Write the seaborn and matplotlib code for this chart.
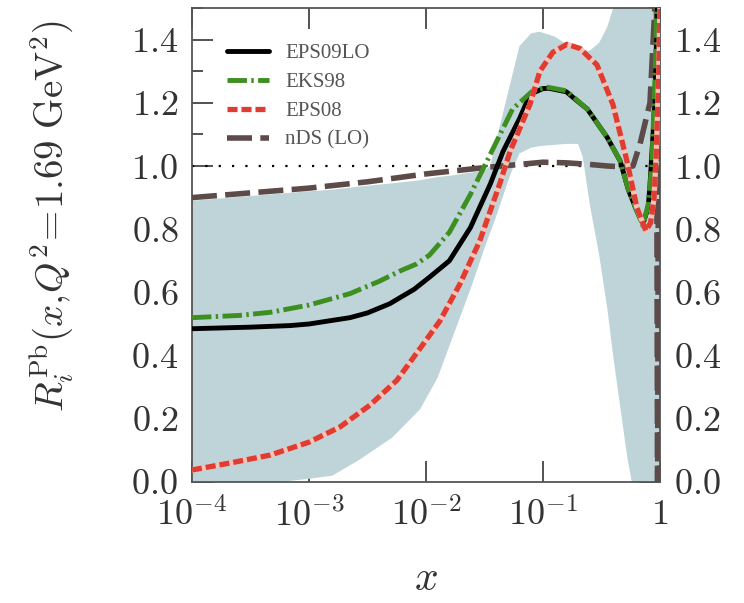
import numpy as np
import matplotlib
matplotlib.use("Agg")
import matplotlib.pyplot as plt
from matplotlib.ticker import FixedLocator, FixedFormatter, MultipleLocator, NullLocator
import seaborn as sns

# -----------------------------
# datos (log10 x)
# -----------------------------
band_lx = [-4.0, -3.5, -3.0, -2.8, -2.57, -2.29, -2.05, -1.9, -1.78, -1.6, -1.5, -1.45,
           -1.4, -1.3, -1.26, -1.2, -1.1, -1.03, -0.9, -0.8, -0.7, -0.66, -0.6, -0.52,
           -0.45, -0.40, -0.34, -0.28, -0.24, -0.15, 0.0]
band_lo = [-0.02, -0.01, 0.01, 0.02, 0.07, 0.14, 0.23, 0.33, 0.45, 0.63, 0.74, 0.79,
           0.84, 0.95, 0.99, 1.04, 1.058, 1.063, 1.067, 1.07, 1.07, 1.03, 0.88, 0.72,
           0.55, 0.40, 0.24, 0.08, 0.0, -0.3, -0.5]
band_hi = [0.89, 0.905, 0.92, 0.925, 0.935, 0.945, 0.955, 0.965, 0.97, 0.98, 0.985, 1.0,
           1.08, 1.23, 1.29, 1.38, 1.42, 1.425, 1.41, 1.385, 1.37, 1.365, 1.365, 1.39,
           1.44, 1.50, 1.58, 1.65, 1.7, 1.8, 1.9]

eps09_lx = [-4.0, -3.5, -3.16, -3.0, -2.65, -2.5, -2.31, -2.1, -1.97, -1.8, -1.62, -1.45,
            -1.34, -1.2, -1.11, -1.0, -0.95, -0.8, -0.72, -0.62, -0.45, -0.34, -0.27, -0.2,
            -0.145, -0.1, -0.085, -0.043, -0.026, -0.015]
eps09_R = [0.485, 0.49, 0.495, 0.50, 0.52, 0.535, 0.564, 0.61, 0.648, 0.70, 0.805, 0.943,
           1.047, 1.15, 1.227, 1.245, 1.246, 1.235, 1.21, 1.18, 1.09, 1.016, 0.925, 0.86,
           0.817, 0.87, 0.94, 1.2, 1.42, 1.6]

eks98_lx = [-4.0, -3.6, -3.33, -3.0, -2.65, -2.4, -2.22, -2.08, -1.97, -1.8, -1.62, -1.45,
            -1.26, -1.09, -0.97, -0.8, -0.72, -0.62, -0.45, -0.34, -0.27, -0.2, -0.145,
            -0.1, -0.07, -0.045, -0.03, -0.02]
eks98_R = [0.52, 0.527, 0.537, 0.56, 0.596, 0.635, 0.668, 0.69, 0.718, 0.79, 0.91, 1.037,
           1.18, 1.237, 1.25, 1.238, 1.212, 1.18, 1.09, 1.016, 0.925, 0.86, 0.81,
           0.88, 1.0, 1.25, 1.45, 1.6]

eps08_lx = [-4.0, -3.675, -3.333, -3.0, -2.735, -2.479, -2.248, -2.026, -1.88, -1.709, -1.54,
            -1.37, -1.28, -1.111, -1.026, -0.915, -0.795, -0.684, -0.538, -0.402, -0.282,
            -0.197, -0.12, -0.08, -0.05, -0.03, -0.01, 0.0]
eps08_R = [0.038, 0.06, 0.085, 0.126, 0.174, 0.243, 0.322, 0.435, 0.51, 0.627, 0.763,
           0.943, 1.047, 1.195, 1.30, 1.36, 1.385, 1.372, 1.32, 1.195, 1.016,
           0.868, 0.795, 0.82, 0.9, 1.05, 1.3, 1.5]

nds_lx = [-4.0, -3.5, -3.0, -2.5, -2.0, -1.5, -1.2, -1.0, -0.8, -0.6, -0.45, -0.3, -0.23,
          -0.17, -0.085, -0.03, -0.02, -0.01, 0.0]
nds_R = [0.90, 0.915, 0.93, 0.95, 0.975, 0.995, 1.005, 1.012, 1.01, 1.005, 1.0, 0.997, 1.0,
         1.07, 1.2, 1.6, -0.1, 1.6, -0.1]

x_ticks = [1e-4, 1e-3, 1e-2, 1e-1, 1.0]
x_tick_labels = [r"$10^{-4}$", r"$10^{-3}$", r"$10^{-2}$", r"$10^{-1}$", r"$1$"]
y_ticks = [0.0, 0.2, 0.4, 0.6, 0.8, 1.0, 1.2, 1.4]
y_tick_labels = [r"$0.0$", r"$0.2$", r"$0.4$", r"$0.6$", r"$0.8$", r"$1.0$", r"$1.2$", r"$1.4$"]

# -----------------------------
# estilo
# -----------------------------
sns.set_style("ticks")
plt.rcParams["mathtext.fontset"] = "cm"
plt.rcParams["font.family"] = ["Liberation Serif", "DejaVu Serif"]

fig = plt.figure(figsize=(7.44, 6.03), dpi=100)
ax = fig.add_axes([0.258, 0.2007, 0.629, 0.786])

# banda de incertidumbre EPS09
ax.fill_between(np.power(10.0, band_lx), band_lo, band_hi, color="#bed4d8", lw=0, zorder=1)
ax.axhline(1.0, color="black", lw=1.6, ls=(0, (1, 5)), zorder=2)

sns.lineplot(x=np.power(10.0, nds_lx), y=nds_R, ax=ax, sort=False, estimator=None,
             color="#5c4b48", lw=4, linestyle=(0, (4.5, 1.5)), label="nDS (LO)", zorder=3)
sns.lineplot(x=np.power(10.0, eps09_lx), y=eps09_R, ax=ax, sort=False, estimator=None,
             color="black", lw=3.5, label="EPS09LO", zorder=4)
sns.lineplot(x=np.power(10.0, eks98_lx), y=eks98_R, ax=ax, sort=False, estimator=None,
             color="#3d8f1f", lw=3.5, linestyle=(0, (4, 0.9, 0.5, 0.9)), label="EKS98", zorder=5)
# fondo claro de los huecos de EPS08
sns.lineplot(x=np.power(10.0, eps08_lx), y=eps08_R, ax=ax, sort=False, estimator=None,
             color="#f3c2b8", lw=3.8, zorder=6)
sns.lineplot(x=np.power(10.0, eps08_lx), y=eps08_R, ax=ax, sort=False, estimator=None,
             color="#e03c31", lw=3.8, linestyle=(0, (1.9, 0.75)), label="EPS08", zorder=7)

ax.set_xscale("log")
ax.set_xlim(1e-4, 1.0)
ax.set_ylim(0.0, 1.5)

ax.xaxis.set_major_locator(FixedLocator(x_ticks))
ax.xaxis.set_major_formatter(FixedFormatter(x_tick_labels))
ax.xaxis.set_minor_locator(NullLocator())
ax.yaxis.set_major_locator(FixedLocator(y_ticks))
ax.yaxis.set_major_formatter(FixedFormatter(y_tick_labels))
ax.yaxis.set_minor_locator(MultipleLocator(0.1))

ax.tick_params(which="both", direction="in", top=True, right=True, labelright=True,
               color="#444444", width=1.3, labelsize=26, labelcolor="#333333")
ax.tick_params(which="major", length=15)
ax.tick_params(which="minor", length=8)
ax.tick_params(axis="y", pad=10)
ax.tick_params(axis="x", pad=12)
for sp in ax.spines.values():
    sp.set_color("#555555")
    sp.set_linewidth(1.3)

ax.set_ylabel(r"$R_i^{\rm Pb}(x,\!Q^2\!=\!1.69\ {\rm GeV}^2)$", fontsize=28, color="#333333")
ax.yaxis.set_label_coords(-0.25, 0.56)
ax.set_xlabel(r"$x$", fontsize=30, color="#333333")
ax.xaxis.set_label_coords(0.5, -0.165)

handles, labels = ax.get_legend_handles_labels()
orden = ["EPS09LO", "EKS98", "EPS08", "nDS (LO)"]
h = [handles[labels.index(l)] for l in orden]
ax.legend(h, orden, loc="upper left", bbox_to_anchor=(0.035, 0.965), frameon=False,
          fontsize=15, handlelength=2.0, labelspacing=0.45, labelcolor="#555555")

fig.savefig("out.png", dpi=100)
